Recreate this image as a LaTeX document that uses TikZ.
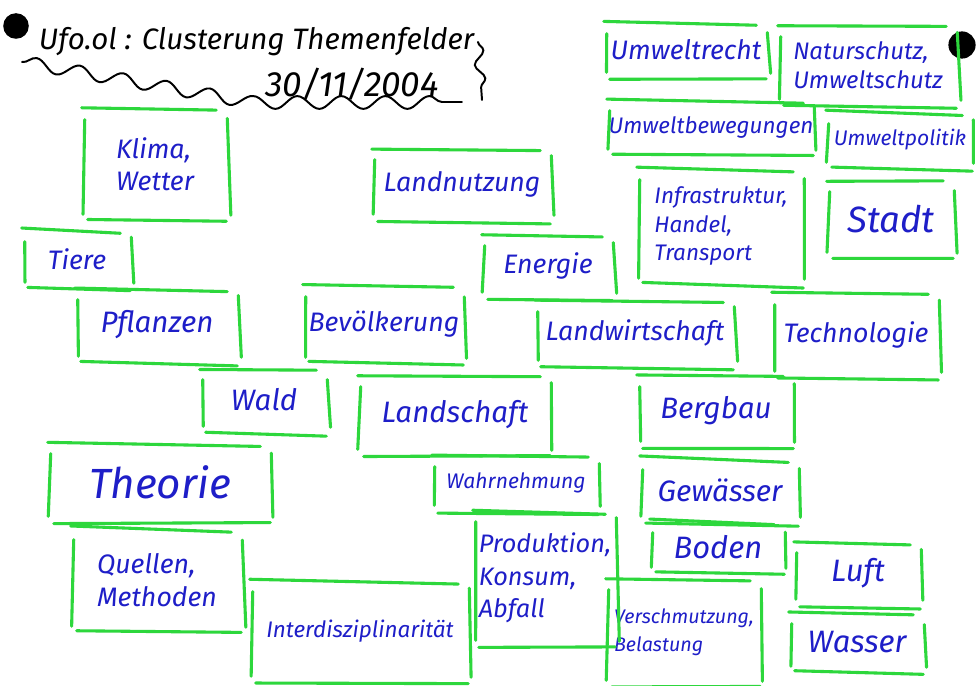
\documentclass[tikz,border=0pt]{standalone}
\usepackage{fontspec}
\setmainfont{Fira Sans}
\usetikzlibrary{decorations.pathmorphing}

\definecolor{marker}{RGB}{45,215,60}
\definecolor{ink}{RGB}{30,30,200}

\tikzset{
  card/.style={inner sep=0pt, text=ink, align=left,
    font=\itshape\fontsize{19}{23}\selectfont},
  pen/.style={marker, line width=2.2pt, line cap=round},
  scrawl/.style={black, line width=1.4pt, line cap=round, decorate,
    decoration={snake, amplitude=1.6mm, segment length=11mm}},
}

\newcommand\sketchbox[1]{%
  \draw[pen] ([shift={(0,{2*rand})}]#1.north west) -- ([shift={(-12,{3+2*rand})}]#1.north east);
  \draw[pen] ([shift={(6,{2*rand})}]#1.south west) -- ([shift={(-2,{2+2*rand})}]#1.south east);
  \draw[pen] ([shift={(3,12)}]#1.north west) -- ([shift={({2+2*rand},-6)}]#1.south west);
  \draw[pen] ([shift={(-1,{10+3*rand})}]#1.north east) -- ([shift={({1+2*rand},-5)}]#1.south east);
}

\begin{document}
\begin{tikzpicture}[x=0.25mm,y=-0.25mm]
\pgfmathsetseed{11}
\fill[white] (0,0) rectangle (976,686);
\useasboundingbox (0,0) rectangle (976,686);

\fill (16,26) circle (3.2mm);
\fill (962,45) circle (3.4mm);

\node[font=\itshape\fontsize{21}{25}\selectfont, anchor=west] (titel) at (34,42) {Ufo.ol : Clusterung Themenfelder};
\node[font=\itshape\fontsize{25}{30}\selectfont] (datum) at (352,84) {30/11/2004};
\draw[scrawl] (22,62) -- (250,102) -- (462,102);
\draw[scrawl, decoration={snake, amplitude=1.2mm, segment length=7mm}] (478,42) -- (482,100);

\node[card, minimum width=36.5mm, minimum height=28mm] (klima) at (155,164) {Klima,\\Wetter};
\node[card, minimum width=45mm, minimum height=18mm] (landnutzung) at (462,184) {Landnutzung};
\node[card, minimum width=27.5mm, minimum height=14.5mm] (tiere) at (77,259) {Tiere};
\node[card, minimum width=33mm, minimum height=16mm] (energie) at (548,266) {Energie};
\node[card, minimum width=41mm, minimum height=14mm] (recht) at (686,50) {Umweltrecht};
\node[card, minimum width=45mm, minimum height=20mm, font=\itshape\fontsize{17}{21}\selectfont] (schutz) at (868,65) {Naturschutz,\\Umweltschutz};
\node[card, minimum width=52mm, minimum height=14mm, font=\itshape\fontsize{16}{20}\selectfont] (bewegung) at (711,127) {Umweltbewegungen};
\node[card, minimum width=37mm, minimum height=14mm, font=\itshape\fontsize{15}{19}\selectfont] (politik) at (900,140) {Umweltpolitik};
\node[card, minimum width=42mm, minimum height=29mm, font=\itshape\fontsize{16}{20}\selectfont] (infra) at (721,226) {Infrastruktur,\\Handel,\\Transport};
\node[card, minimum width=32mm, minimum height=19.5mm, font=\itshape\fontsize{26}{30}\selectfont] (stadt) at (891,219) {Stadt};
\node[card, minimum width=41mm, minimum height=18.5mm, font=\itshape\fontsize{21}{25}\selectfont] (pflanzen) at (157,325) {Pflanzen};
\node[card, minimum width=40.5mm, minimum height=19.5mm] (bevoelkerung) at (384,324) {Bevölkerung};
\node[card, minimum width=50mm, minimum height=16.5mm] (landwirtschaft) at (635,333) {Landwirtschaft};
\node[card, minimum width=42mm, minimum height=21mm] (technologie) at (856,335) {Technologie};
\node[card, minimum width=32mm, minimum height=16mm, font=\itshape\fontsize{21}{25}\selectfont] (wald) at (264,400) {Wald};
\node[card, minimum width=48.5mm, minimum height=20mm, font=\itshape\fontsize{21}{25}\selectfont] (landschaft) at (455,415) {Landschaft};
\node[card, minimum width=39.5mm, minimum height=18mm, font=\itshape\fontsize{21}{25}\selectfont] (bergbau) at (716,411) {Bergbau};
\node[card, minimum width=56mm, minimum height=20mm, font=\itshape\fontsize{30}{34}\selectfont] (theorie) at (160,482) {Theorie};
\node[card, minimum width=42mm, minimum height=14mm, font=\itshape\fontsize{15}{19}\selectfont] (wahrnehmung) at (516,483) {Wahrnehmung};
\node[card, minimum width=40mm, minimum height=16mm, font=\itshape\fontsize{21}{25}\selectfont] (gewaesser) at (720,490) {Gewässer};
\node[card, minimum width=43mm, minimum height=26mm] (quellen) at (157,580) {Quellen,\\Methoden};
\node[card, minimum width=36mm, minimum height=34mm, font=\itshape\fontsize{18}{23}\selectfont] (produktion) at (545,578) {Produktion,\\Konsum,\\Abfall};
\node[card, minimum width=34mm, minimum height=13mm, font=\itshape\fontsize{22}{26}\selectfont] (boden) at (718,547) {Boden};
\node[card, minimum width=32mm, minimum height=16mm, font=\itshape\fontsize{22}{26}\selectfont] (luft) at (858,573) {Luft};
\node[card, minimum width=55mm, minimum height=25.5mm, font=\itshape\fontsize{16}{20}\selectfont] (inter) at (360,631) {Interdisziplinarität};
\node[card, minimum width=39mm, minimum height=27mm, font=\itshape\fontsize{14}{20}\selectfont] (verschmutzung) at (684,632) {Verschmutzung,\\Belastung};
\node[card, minimum width=34mm, minimum height=15mm, font=\itshape\fontsize{22}{26}\selectfont] (wasser) at (857,642) {Wasser};

\foreach \n in {klima,landnutzung,tiere,energie,recht,schutz,bewegung,politik,infra,stadt,
  pflanzen,bevoelkerung,landwirtschaft,technologie,wald,landschaft,bergbau,theorie,
  wahrnehmung,gewaesser,quellen,produktion,boden,luft,inter,verschmutzung,wasser}
  \sketchbox{\n};
\end{tikzpicture}
\end{document}
